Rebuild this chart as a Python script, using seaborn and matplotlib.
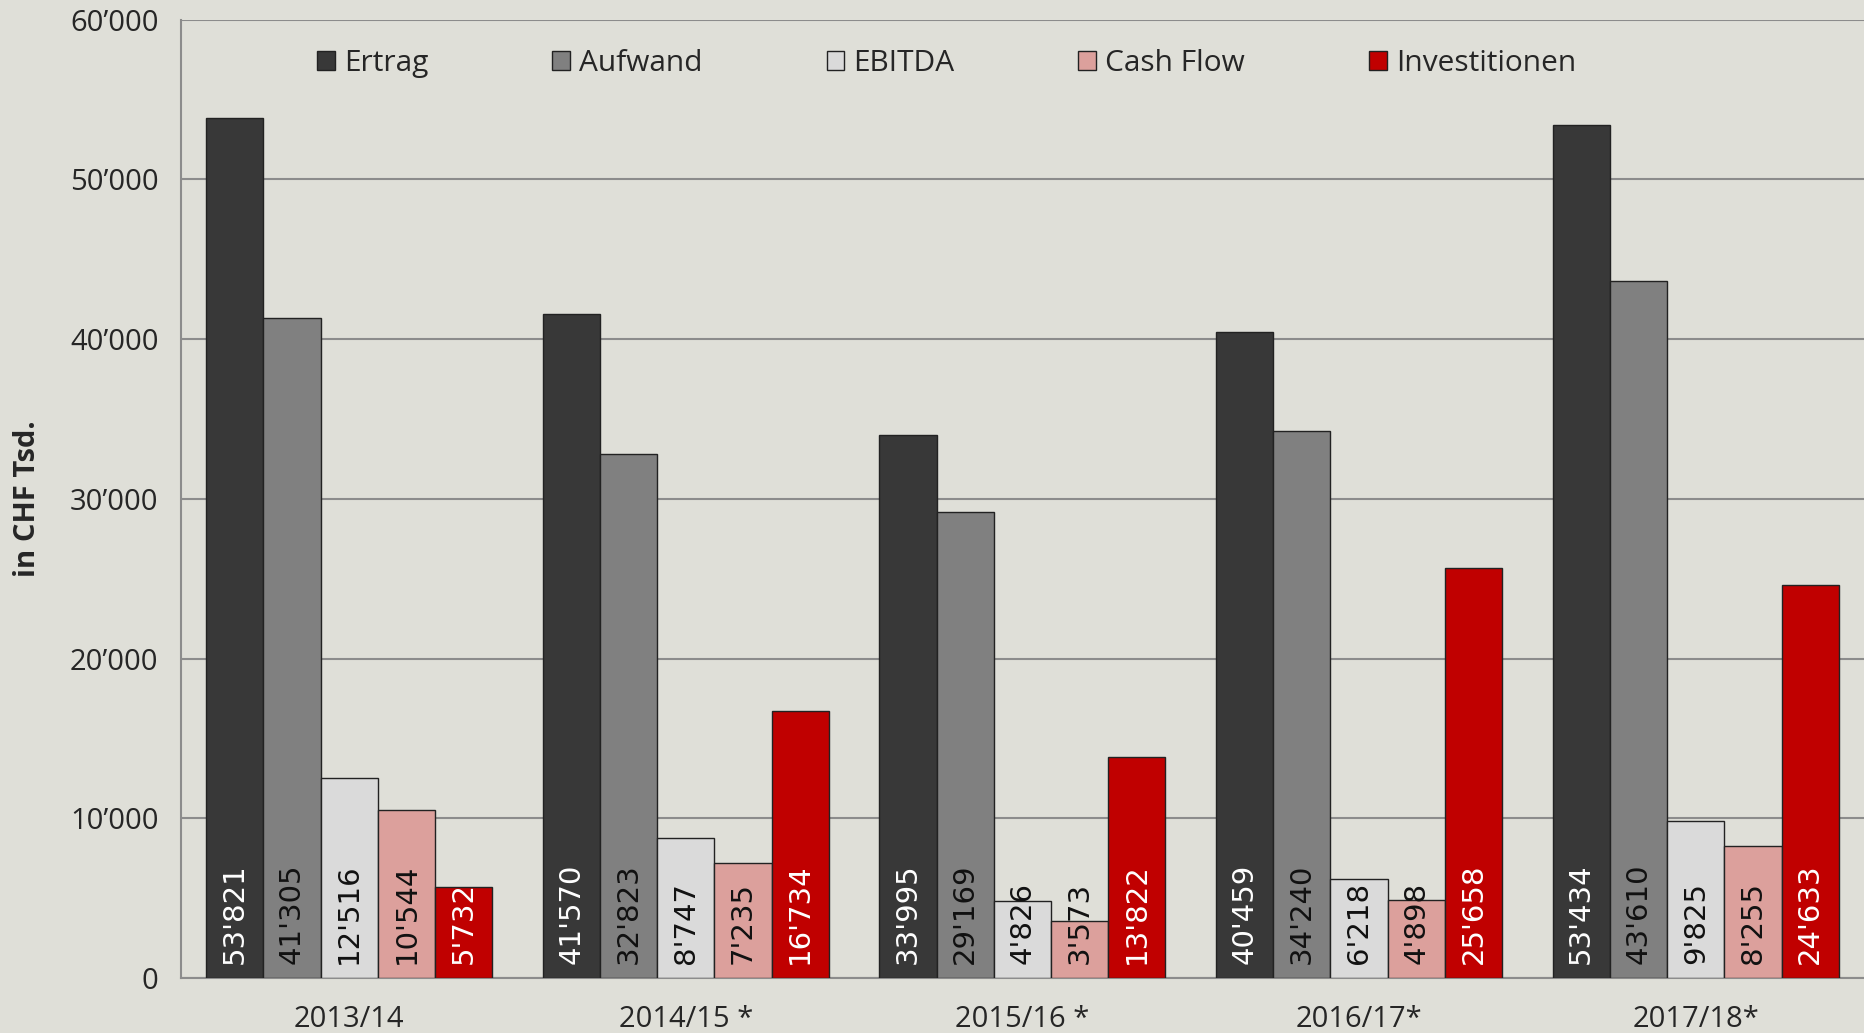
import pandas as pd
import seaborn as sns
import matplotlib.pyplot as plt
from matplotlib.ticker import FuncFormatter, FixedLocator

years = ["2013/14", "2014/15 *", "2015/16 *", "2016/17*", "2017/18*"]
series = ["Ertrag", "Aufwand", "EBITDA", "Cash Flow", "Investitionen"]
ertrag = [53821, 41570, 33995, 40459, 53434]
aufwand = [41305, 32823, 29169, 34240, 43610]
ebitda = [12516, 8747, 4826, 6218, 9825]
cash_flow = [10544, 7235, 3573, 4898, 8255]
investitionen = [5732, 16734, 13822, 25658, 24633]

colors = ["#383838", "#808080", "#dadada", "#dca09c", "#c00000"]
label_colors = ["white", "#111111", "#111111", "#111111", "white"]
bg = "#dfdfd8"

values = [ertrag, aufwand, ebitda, cash_flow, investitionen]
rows = []
for s, vals in zip(series, values):
    for y, v in zip(years, vals):
        rows.append({"Jahr": y, "Kategorie": s, "Wert": v})
df = pd.DataFrame(rows)

sns.set_style("white")
plt.rcParams['font.family'] = ['Open Sans', 'DejaVu Sans']

fig = plt.figure(figsize=(18.64, 10.33), dpi=100, facecolor=bg)
ax = fig.add_axes([0.097, 0.053, 0.903, 0.928])
ax.set_facecolor(bg)

sns.barplot(data=df, x="Jahr", y="Wert", hue="Kategorie", order=years,
            hue_order=series, palette=colors, width=0.85, saturation=1,
            edgecolor="#222222", linewidth=1, ax=ax, zorder=3)

# value labels at the foot of each bar
for cont, lc in zip(ax.containers, label_colors):
    for bar in cont:
        v = int(round(bar.get_height()))
        ax.text(bar.get_x() + bar.get_width() / 2, 900,
                f"{v:,}".replace(",", "'"), rotation=90, ha="center",
                va="bottom", color=lc, fontsize=21, family="DejaVu Sans",
                zorder=4)

ax.set_ylim(0, 60000)
ax.set_xlim(-0.5, 4.48)
ax.yaxis.set_major_locator(FixedLocator(range(0, 60001, 10000)))
ax.yaxis.set_major_formatter(FuncFormatter(lambda v, p: f"{int(v):,}".replace(",", "\u2019")))
ax.grid(axis="y", color="#8c8c8c", linewidth=1.5, zorder=0)
ax.set_axisbelow(True)

ax.set_xticks(range(len(years)))
ax.set_xticklabels(years)
ax.set_xticks([i - 0.5 for i in range(len(years) + 1)], minor=True)
ax.tick_params(axis="x", which="major", length=0, labelsize=21, pad=19)
ax.tick_params(axis="x", which="minor", length=10, width=1.5, color="#8c8c8c")
ax.tick_params(axis="y", which="major", length=10, width=1.5, color="#8c8c8c",
               labelsize=21, pad=6)

for side in ["top", "right"]:
    ax.spines[side].set_visible(False)
for side in ["left", "bottom"]:
    ax.spines[side].set_color("#8c8c8c")
    ax.spines[side].set_linewidth(1.5)

ax.set_xlabel("")
ax.set_ylabel("in CHF Tsd.", fontsize=21, fontweight="bold", labelpad=20)

leg = ax.legend(loc="upper left", bbox_to_anchor=(0.065, 0.997), ncol=5,
                frameon=False, fontsize=21.5, handlelength=0.6, handleheight=0.6,
                handletextpad=0.3, columnspacing=4.15)

fig.savefig("out.png", dpi=100, facecolor=bg)
